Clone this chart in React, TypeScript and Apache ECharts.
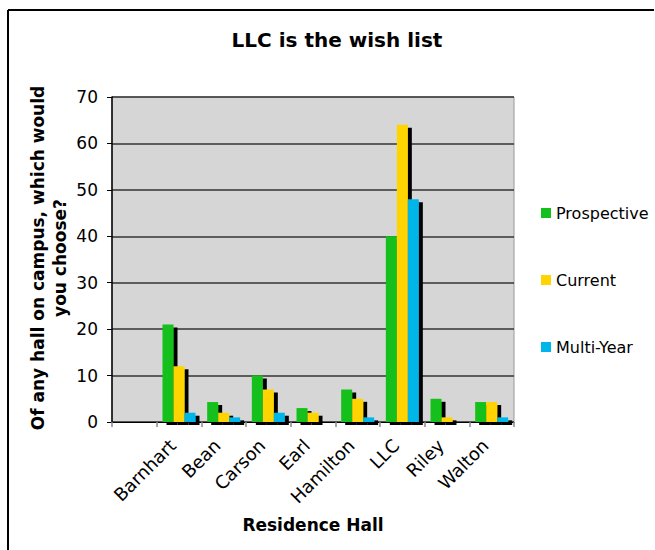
import React, { useEffect, useRef } from "react";
import * as echarts from "echarts";

const categories = ["", "Barnhart", "Bean", "Carson", "Earl", "Hamilton", "LLC", "Riley", "Walton"];
const prospective = [null, 21, 4.3, 10, 3, 7, 40, 5, 4.3];
const current = [null, 12, 2, 7, 2, 5, 64, 1, 4.3];
const multiYear = [null, 2, 1, 2, 0, 1, 48, 0, 1];
const seriesNames = ["Prospective", "Current", "Multi-Year"];
const yTicks = { min: 0, max: 70, interval: 10 };

const FONT = "'DejaVu Sans', Verdana, sans-serif";

export default function App() {
  const ref = useRef<HTMLDivElement>(null);
  useEffect(() => {
    if (!ref.current) return;
    const chart = echarts.init(ref.current, null, { renderer: "svg" });
    const barStyle = (color: string) => ({
      color,
      shadowColor: "#000",
      shadowBlur: 0,
      shadowOffsetX: 4,
      shadowOffsetY: 3,
    });
    const colors = ["#15c01c", "#ffd400", "#00b6e8"];
    const data = [prospective, current, multiYear];
    chart.setOption({
      animation: false,
      backgroundColor: "#fff",
      textStyle: { fontFamily: FONT },
      grid: { left: 112, right: 141, top: 97, bottom: 128, show: true, backgroundColor: "#d6d6d6", borderColor: "#999", borderWidth: 1 },
      legend: {
        orient: "vertical",
        left: 536,
        top: 199,
        itemWidth: 10,
        itemHeight: 10,
        itemGap: 49,
        icon: "rect",
        textStyle: { fontSize: 16, color: "#000", fontFamily: FONT, lineHeight: 18 },
        data: seriesNames,
      },
      xAxis: {
        type: "category",
        data: categories,
        axisLine: { lineStyle: { color: "#000", width: 1 } },
        axisTick: { show: true, length: 5, lineStyle: { color: "#888", width: 1.5 } },
        axisLabel: { interval: 0, rotate: 45, fontSize: 18, color: "#000", fontFamily: FONT, margin: 14, padding: [0, 9, 0, 0] },
      },
      yAxis: {
        type: "value",
        min: yTicks.min,
        max: yTicks.max,
        interval: yTicks.interval,
        axisLine: { show: true, lineStyle: { color: "#000", width: 1.5 } },
        axisTick: { show: true, length: 5, lineStyle: { color: "#000" } },
        axisLabel: { fontSize: 17, color: "#000", fontFamily: FONT, margin: 14 },
        splitLine: { lineStyle: { color: "#333", width: 1.5 } },
      },
      series: seriesNames.map((name, i) => ({
        name,
        type: "bar",
        data: data[i],
        barWidth: 11,
        barGap: "0%",
        itemStyle: barStyle(colors[i]),
      })),
      graphic: [
        { type: "line", shape: { x1: 8, y1: 10, x2: 654, y2: 10 }, style: { stroke: "#000", lineWidth: 2 } },
        { type: "line", shape: { x1: 8, y1: 10, x2: 8, y2: 550 }, style: { stroke: "#000", lineWidth: 2 } },
        {
          type: "text",
          x: 337,
          y: 40,
          style: { text: "LLC is the wish list", font: `bold 20px ${FONT}`, fill: "#000", textAlign: "center", textVerticalAlign: "middle" },
        },
        {
          type: "text",
          x: 49,
          y: 258,
          rotation: Math.PI / 2,
          style: {
            text: "Of any hall on campus, which would\nyou choose?",
            font: `bold 17px ${FONT}`,
            lineHeight: 22,
            fill: "#000",
            textAlign: "center",
            textVerticalAlign: "middle",
          },
        },
        {
          type: "text",
          x: 313,
          y: 525,
          style: { text: "Residence Hall", font: `bold 17px ${FONT}`, fill: "#000", textAlign: "center", textVerticalAlign: "middle" },
        },
      ],
    });
    return () => chart.dispose();
  }, []);
  return <div ref={ref} style={{ width: 655, height: 550, position: "absolute", left: 0, top: 0 }} />;
}
